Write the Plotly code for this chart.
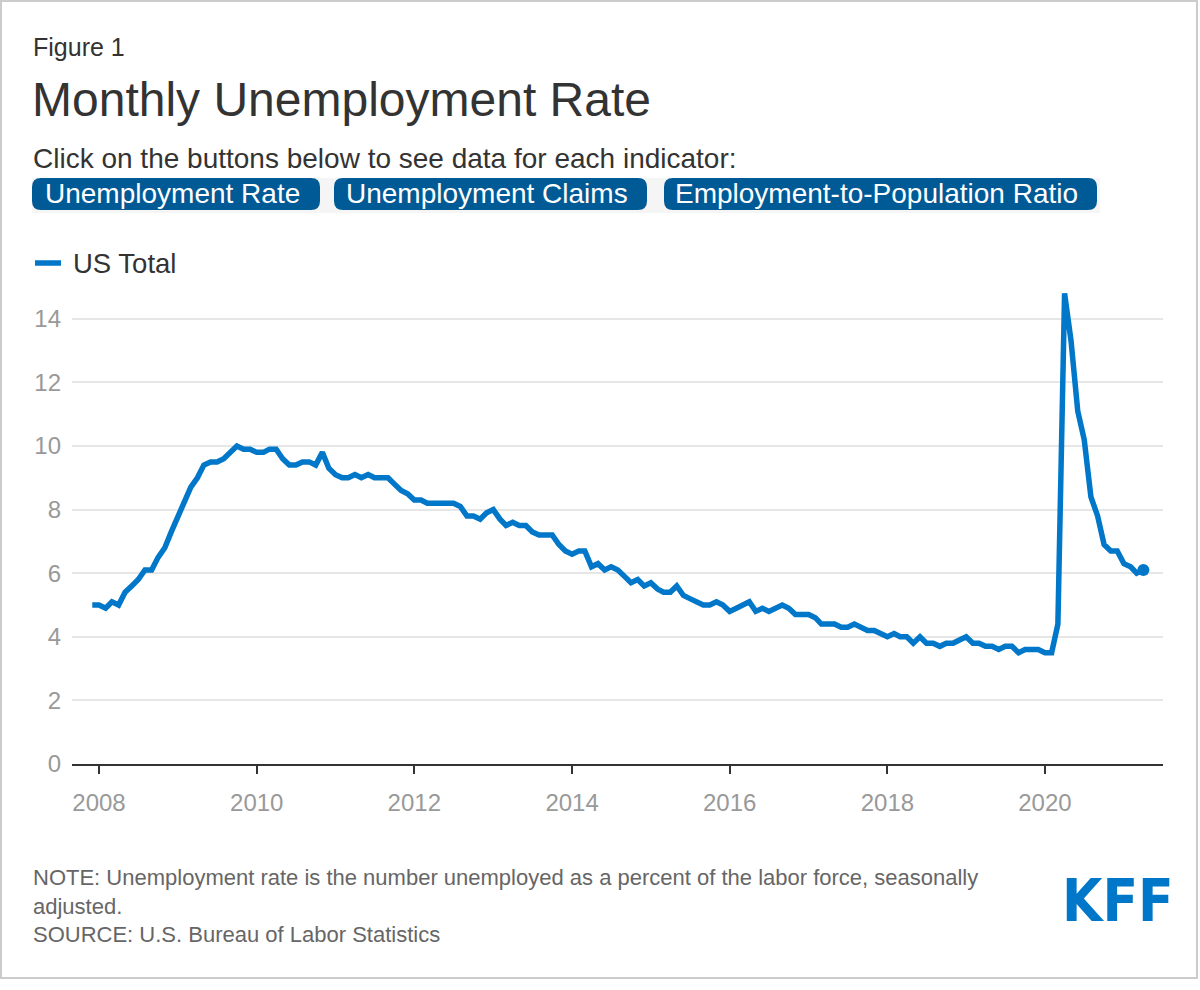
import pandas as pd
import plotly.graph_objects as go

# ---- data (monthly, Dec 2007 - Apr 2021) ----
start_month = "2007-12-01"
rates = [
    5.0,
    5.0, 4.9, 5.1, 5.0, 5.4, 5.6, 5.8, 6.1, 6.1, 6.5, 6.8, 7.3,
    7.8, 8.3, 8.7, 9.0, 9.4, 9.5, 9.5, 9.6, 9.8, 10.0, 9.9, 9.9,
    9.8, 9.8, 9.9, 9.9, 9.6, 9.4, 9.4, 9.5, 9.5, 9.4, 9.8, 9.3,
    9.1, 9.0, 9.0, 9.1, 9.0, 9.1, 9.0, 9.0, 9.0, 8.8, 8.6, 8.5,
    8.3, 8.3, 8.2, 8.2, 8.2, 8.2, 8.2, 8.1, 7.8, 7.8, 7.7, 7.9,
    8.0, 7.7, 7.5, 7.6, 7.5, 7.5, 7.3, 7.2, 7.2, 7.2, 6.9, 6.7,
    6.6, 6.7, 6.7, 6.2, 6.3, 6.1, 6.2, 6.1, 5.9, 5.7, 5.8, 5.6,
    5.7, 5.5, 5.4, 5.4, 5.6, 5.3, 5.2, 5.1, 5.0, 5.0, 5.1, 5.0,
    4.8, 4.9, 5.0, 5.1, 4.8, 4.9, 4.8, 4.9, 5.0, 4.9, 4.7, 4.7,
    4.7, 4.6, 4.4, 4.4, 4.4, 4.3, 4.3, 4.4, 4.3, 4.2, 4.2, 4.1,
    4.0, 4.1, 4.0, 4.0, 3.8, 4.0, 3.8, 3.8, 3.7, 3.8, 3.8, 3.9,
    4.0, 3.8, 3.8, 3.7, 3.7, 3.6, 3.7, 3.7, 3.5, 3.6, 3.6, 3.6,
    3.5, 3.5, 4.4, 14.8, 13.3, 11.1, 10.2, 8.4, 7.8, 6.9, 6.7, 6.7,
    6.3, 6.2, 6.0, 6.1,
]
months = pd.date_range(start_month, periods=len(rates), freq="MS")
series_name = "US Total"
year_ticks = ["2008-01-01", "2010-01-01", "2012-01-01", "2014-01-01",
              "2016-01-01", "2018-01-01", "2020-01-01"]
year_labels = ["2008", "2010", "2012", "2014", "2016", "2018", "2020"]
y_ticks = [0, 2, 4, 6, 8, 10, 12, 14]
buttons = ["Unemployment Rate", "Unemployment Claims", "Employment-to-Population Ratio"]

# ---- layout geometry (pixels) ----
FW, FH = 1200, 990
L, R, T, B = 72, 1163, 287, 764
W, H = R - L, B - T

def px(x):
    return (x - L) / W

def py(y):
    return (B - y) / H

BLUE = "#0077c8"
BTN = "#005a96"
FONT = "Liberation Sans, Arial, sans-serif"

fig = go.Figure()
fig.add_trace(go.Scatter(
    x=months, y=rates, mode="lines", name=series_name,
    line=dict(color=BLUE, width=5.5, shape="linear"),
    hoverinfo="x+y", showlegend=False,
))
fig.add_trace(go.Scatter(
    x=months[-1:], y=rates[-1:], mode="markers",
    marker=dict(color=BLUE, size=12), showlegend=False,
))

shapes = []
annotations = []

# outer border
shapes.append(dict(type="rect", xref="paper", yref="paper",
                   x0=px(1), x1=px(1197), y0=py(1), y1=py(978),
                   line=dict(color="#cccccc", width=2), fillcolor="rgba(0,0,0,0)",
                   layer="below"))

def txt(x, yc, s, size, color, **kw):
    annotations.append(dict(xref="paper", yref="paper", x=px(x), y=py(yc),
                            xanchor=kw.pop("xanchor", "left"), yanchor="middle",
                            text=s, showarrow=False,
                            font=dict(family=kw.pop("family", FONT), size=size, color=color),
                            align="left", **kw))

txt(31, 47, "Figure 1", 25, "#333333")
txt(30, 100, "Monthly Unemployment Rate", 48, "#333333")
txt(31, 158, "Click on the buttons below to see data for each indicator:", 28, "#333333")

# button strip background
shapes.append(dict(type="rect", xref="paper", yref="paper",
                   x0=px(32), x1=px(1100), y0=py(178), y1=py(213),
                   line=dict(width=0), fillcolor="#f5f5f5", layer="below"))

def rrect(x0, x1, y0, y1, r):
    rx, ry = r / W, r / H
    X0, X1, Y0, Y1 = px(x0), px(x1), py(y1), py(y0)
    return (f"M{X0+rx},{Y0} L{X1-rx},{Y0} Q{X1},{Y0} {X1},{Y0+ry} "
            f"L{X1},{Y1-ry} Q{X1},{Y1} {X1-rx},{Y1} L{X0+rx},{Y1} "
            f"Q{X0},{Y1} {X0},{Y1-ry} L{X0},{Y0+ry} Q{X0},{Y0} {X0+rx},{Y0} Z")

btn_x = [(32, 320), (334, 647), (664, 1097)]
for (x0, x1), label in zip(btn_x, buttons):
    shapes.append(dict(type="path", xref="paper", yref="paper",
                       path=rrect(x0, x1, 178, 210, 9),
                       fillcolor=BTN, line=dict(width=0), layer="below"))
    txt((x0 + x1) / 2 - 4, 193.5, label, 28, "#ffffff", xanchor="center")

# legend
shapes.append(dict(type="line", xref="paper", yref="paper",
                   x0=px(35), x1=px(61), y0=py(263), y1=py(263),
                   line=dict(color=BLUE, width=5.5)))
txt(71, 263.5, series_name, 27.5, "#333333")

# notes
txt(31, 906, "NOTE: Unemployment rate is the number unemployed as a percent of the labor force, seasonally"
        "<br>adjusted.<br>SOURCE: U.S. Bureau of Labor Statistics", 22, "#666666")

# logo
txt(1118, 901, "<b>KFF</b>", 58, BLUE, xanchor="center",
    family="Liberation Sans Narrow, DejaVu Sans Condensed, Arial Narrow, sans-serif")

fig.update_layout(
    width=FW, height=FH,
    margin=dict(l=L, r=FW - R, t=T, b=FH - B, pad=0),
    paper_bgcolor="white", plot_bgcolor="white",
    font=dict(family=FONT, color="#333333"),
    shapes=shapes, annotations=annotations,
    xaxis=dict(
        type="date", range=["2007-08-29", "2021-07-01"],
        tickvals=year_ticks, ticktext=year_labels,
        showgrid=False, zeroline=False,
        showline=True, linecolor="#333333", linewidth=2,
        ticks="outside", ticklen=8, tickwidth=2, tickcolor="#333333",
        ticklabelstandoff=8,
        tickfont=dict(size=24, color="#999999"),
    ),
    yaxis=dict(
        range=[0, 15], tickvals=y_ticks,
        showgrid=True, gridcolor="#e6e6e6", gridwidth=2,
        zeroline=False, showline=False, ticks="",
        ticklabelstandoff=10,
        tickfont=dict(size=24, color="#999999"),
    ),
    showlegend=False,
)

fig.write_html("out.html", post_script="document.body.style.margin='0';",
               config={"displayModeBar": False})
